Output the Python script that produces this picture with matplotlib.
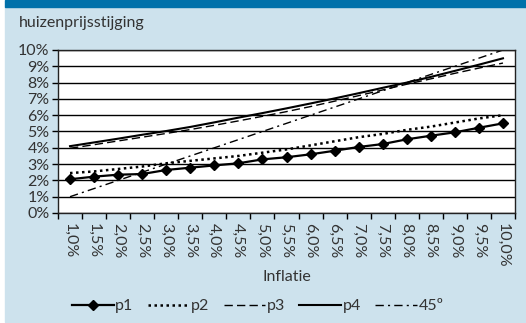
import numpy as np
import matplotlib
matplotlib.use("Agg")
import matplotlib.pyplot as plt

plt.rcParams['font.family'] = ['Lato', 'DejaVu Sans']

# data
inflatie = ['1,0%', '1,5%', '2,0%', '2,5%', '3,0%', '3,5%', '4,0%', '4,5%', '5,0%', '5,5%',
            '6,0%', '6,5%', '7,0%', '7,5%', '8,0%', '8,5%', '9,0%', '9,5%', '10,0%']
p1 = [2.07, 2.23, 2.35, 2.39, 2.64, 2.78, 2.92, 3.05, 3.29, 3.42,
      3.60, 3.82, 4.05, 4.23, 4.52, 4.74, 4.95, 5.23, 5.50]
p2 = [2.45, 2.55, 2.70, 2.85, 3.05, 3.20, 3.35, 3.50, 3.70, 3.90,
      4.15, 4.40, 4.65, 4.85, 5.10, 5.30, 5.55, 5.80, 6.00]
p3 = [3.97, 4.19, 4.42, 4.65, 4.88, 5.12, 5.38, 5.65, 5.93, 6.22,
      6.53, 6.86, 7.20, 7.55, 7.90, 8.23, 8.57, 8.89, 9.20]
p4 = [4.10, 4.33, 4.56, 4.80, 5.03, 5.28, 5.56, 5.85, 6.13, 6.42,
      6.72, 7.03, 7.35, 7.68, 8.00, 8.35, 8.72, 9.10, 9.49]
lijn45 = [1.0, 1.5, 2.0, 2.5, 3.0, 3.5, 4.0, 4.5, 5.0, 5.5,
          6.0, 6.5, 7.0, 7.5, 8.0, 8.5, 9.0, 9.5, 10.0]
y_ticks = [0, 1, 2, 3, 4, 5, 6, 7, 8, 9, 10]

FS = 11.5
W, H = 526, 323
fig = plt.figure(figsize=(W / 100, H / 100), dpi=100)
fig.patch.set_facecolor('white')

# light blue panel and dark top bar
fig.patches.append(plt.Rectangle((5 / W, 1 / H), 1 - 5 / W, 1 - 8 / H,
                                 transform=fig.transFigure, color='#cde2ed', zorder=-2))
fig.patches.append(plt.Rectangle((5 / W, 1 - 7 / H), 1 - 5 / W, 7 / H,
                                 transform=fig.transFigure, color='#0071aa', zorder=-1))

fig.text(19 / W, 1 - 23 / H, 'huizenprijsstijging', fontsize=FS, color='#333333', va='center')

ax = fig.add_axes([58 / W, 1 - 213 / H, (515 - 58) / W, (213 - 50) / H])
ax.set_facecolor('white')

x = np.arange(len(inflatie))
ax.plot(x, p1, color='black', lw=1.6, marker='D', markersize=5.5, label='p1')
ax.plot(x, p2, color='black', lw=1.8, linestyle=(0, (1, 1.4)), label='p2')
ax.plot(x, p3, color='black', lw=1.0, linestyle=(0, (6, 3)), label='p3')
ax.plot(x, p4, color='black', lw=1.5, label='p4')
ax.plot(x, lijn45, color='black', lw=1.0, linestyle=(0, (6, 3, 1.5, 3)), label='45º')

ax.set_xlim(-0.5, len(inflatie) - 0.5)
ax.set_ylim(0, 10)
ax.set_yticks(y_ticks)
ax.set_yticklabels([f'{v}%' for v in y_ticks], fontsize=FS, color='#333333')
ax.grid(axis='y', color='black', lw=1.0)
ax.set_axisbelow(True)

ax.set_xticks(x)
ax.set_xticklabels(inflatie, rotation=-90, fontsize=FS, color='#333333')
ax.set_xticks(np.arange(-0.5, len(inflatie)), minor=True)
ax.tick_params(axis='x', which='major', length=0, pad=7)
ax.tick_params(axis='x', which='minor', length=4, width=1, direction='out')
ax.tick_params(axis='y', length=4, width=1, pad=2)
for s in ax.spines.values():
    s.set_color('#222222')
    s.set_linewidth(1.0)

ax.set_xlabel('Inflatie', fontsize=FS, color='#333333', labelpad=2)

fig.legend(loc='center', bbox_to_anchor=(0.49, 1 - 306 / H), ncol=5, frameon=False,
           fontsize=FS, handlelength=2.6, handletextpad=0.1, columnspacing=0.9,
           labelcolor='#333333')

fig.savefig('out.png', dpi=100)
